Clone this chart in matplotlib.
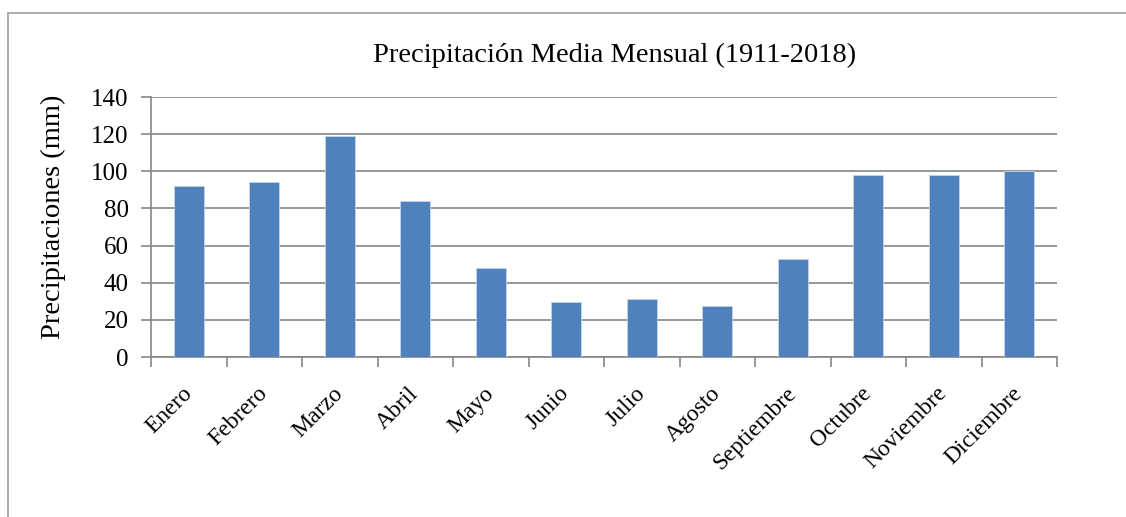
import matplotlib
matplotlib.use("Agg")
import matplotlib.pyplot as plt
from matplotlib.patches import Rectangle

months = ["Enero", "Febrero", "Marzo", "Abril", "Mayo", "Junio", "Julio",
          "Agosto", "Septiembre", "Octubre", "Noviembre", "Diciembre"]
precip = [92, 94, 119, 84, 48, 29.5, 31.5, 27.5, 53, 98, 98, 100]
yticks = [0, 20, 40, 60, 80, 100, 120, 140]

plt.rcParams['font.family'] = ['Liberation Serif', 'DejaVu Serif']

W, H = 1126, 517
fig = plt.figure(figsize=(W / 100, H / 100), dpi=100)

# outer chart frame (extends beyond right/bottom edges)
fig.patches.append(Rectangle((8 / W, -0.1), 1.2, 1 - 13 / H + 0.1,
                             transform=fig.transFigure, fill=False,
                             edgecolor='#a6a6a6', linewidth=1.3))

ax = fig.add_axes([151 / W, 1 - 357 / H, (1057 - 151) / W, (357 - 97) / H])
x = list(range(len(months)))
ax.bar(x, precip, width=0.4, color='#4F81BD', edgecolor='#c5d3e8',
       linewidth=0.6, zorder=3)

ax.set_xlim(-0.5, len(months) - 0.5)
ax.set_ylim(0, 140)
ax.set_yticks(yticks)
ax.set_yticklabels([str(v) for v in yticks], fontsize=18)
ax.yaxis.grid(True, color='#868686', linewidth=1.2, zorder=0)
ax.set_axisbelow(True)

ax.set_xticks([i - 0.5 for i in range(len(months) + 1)])
ax.set_xticklabels([])
ax.set_xticks(x, minor=True)
ax.set_xticklabels(months, minor=True, rotation=45, ha='right',
                   va='center', rotation_mode='anchor', fontsize=17)
ax.tick_params(axis='x', which='minor', length=0, pad=24)
ax.tick_params(axis='x', which='major', length=7, color='#868686',
               width=1.2, direction='out')
ax.tick_params(axis='y', length=7, color='#868686', width=1.2,
               direction='out', pad=9)

for s in ['top', 'right']:
    ax.spines[s].set_visible(False)
for s in ['left', 'bottom']:
    ax.spines[s].set_color('#868686')
    ax.spines[s].set_linewidth(1.2)

ax.set_ylabel("Precipitaciones (mm)", fontsize=20.5)
ax.yaxis.set_label_coords(-0.0935, 0.54)
fig.text(615 / W, 1 - 55 / H, "Precipitación Media Mensual (1911-2018)",
         ha='center', va='center', fontsize=20.5)

fig.savefig("out.png", dpi=100)
